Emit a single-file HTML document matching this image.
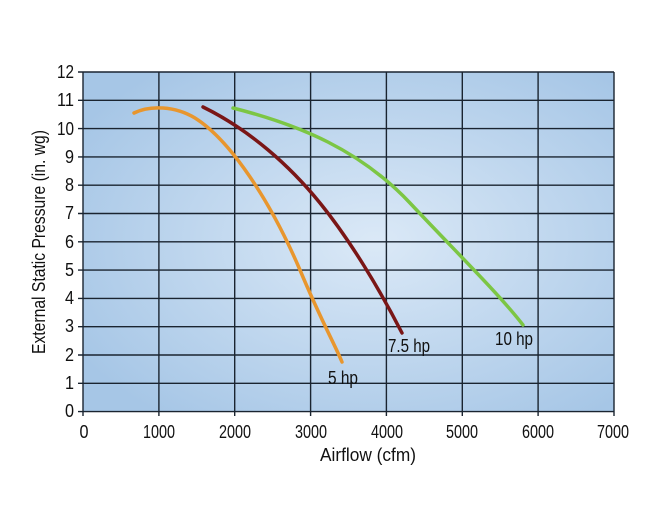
<!DOCTYPE html>
<html><head><meta charset="utf-8"><style>
html,body{margin:0;padding:0;background:#fff;}
svg text{font-family:"Liberation Sans Narrow","Liberation Sans",sans-serif;fill:#111;}
</style></head><body>
<svg width="650" height="526" viewBox="0 0 650 526" xmlns="http://www.w3.org/2000/svg">
<defs>
<radialGradient id="bg" cx="0.55" cy="0.5" r="0.65">
<stop offset="0" stop-color="#dbe9f7"/>
<stop offset="1" stop-color="#a6c6e6"/>
</radialGradient>
</defs>
<rect x="83" y="72" width="531" height="340" fill="url(#bg)"/>
<g stroke="#1a2430" stroke-width="1.4">
<line x1="78" y1="72" x2="614" y2="72"/>
<line x1="78" y1="100.3" x2="614" y2="100.3"/>
<line x1="78" y1="128.6" x2="614" y2="128.6"/>
<line x1="78" y1="156.9" x2="614" y2="156.9"/>
<line x1="78" y1="185.2" x2="614" y2="185.2"/>
<line x1="78" y1="213.5" x2="614" y2="213.5"/>
<line x1="78" y1="241.8" x2="614" y2="241.8"/>
<line x1="78" y1="270.1" x2="614" y2="270.1"/>
<line x1="78" y1="298.4" x2="614" y2="298.4"/>
<line x1="78" y1="326.7" x2="614" y2="326.7"/>
<line x1="78" y1="355" x2="614" y2="355"/>
<line x1="78" y1="383.3" x2="614" y2="383.3"/>
<line x1="78" y1="411.6" x2="614" y2="411.6"/>
<line x1="83" y1="72" x2="83" y2="416"/>
<line x1="158.9" y1="72" x2="158.9" y2="416"/>
<line x1="234.7" y1="72" x2="234.7" y2="416"/>
<line x1="310.6" y1="72" x2="310.6" y2="416"/>
<line x1="386.4" y1="72" x2="386.4" y2="416"/>
<line x1="462.3" y1="72" x2="462.3" y2="416"/>
<line x1="538.1" y1="72" x2="538.1" y2="416"/>
<line x1="614" y1="72" x2="614" y2="416"/>
</g>
<g fill="none" stroke-width="3.5" stroke-linecap="round" stroke-linejoin="round">
<path d="M134,113 C150,105 175,106 195,118 C230,140 270,200 300,270 C320,318 335,345 342,362" stroke="#e8962e"/>
<path d="M203,107 C250,130 290,166 320,203 C350,240 380,290 402,333" stroke="#7a1616"/>
<path d="M233,108 C300,125 360,150 410,203 C455,251 500,295 523,325" stroke="#7cc644"/>
</g>
<g font-size="18" text-anchor="end">
<text x="74" y="78" textLength="17" lengthAdjust="spacingAndGlyphs">12</text><text x="74" y="106" textLength="17" lengthAdjust="spacingAndGlyphs">11</text><text x="74" y="135" textLength="17" lengthAdjust="spacingAndGlyphs">10</text>
<text x="74" y="163" textLength="9" lengthAdjust="spacingAndGlyphs">9</text><text x="74" y="191" textLength="9" lengthAdjust="spacingAndGlyphs">8</text><text x="74" y="219" textLength="9" lengthAdjust="spacingAndGlyphs">7</text>
<text x="74" y="248" textLength="9" lengthAdjust="spacingAndGlyphs">6</text><text x="74" y="276" textLength="9" lengthAdjust="spacingAndGlyphs">5</text><text x="74" y="304" textLength="9" lengthAdjust="spacingAndGlyphs">4</text>
<text x="74" y="332" textLength="9" lengthAdjust="spacingAndGlyphs">3</text><text x="74" y="361" textLength="9" lengthAdjust="spacingAndGlyphs">2</text><text x="74" y="389" textLength="9" lengthAdjust="spacingAndGlyphs">1</text>
<text x="74" y="417" textLength="9" lengthAdjust="spacingAndGlyphs">0</text>
</g>
<g font-size="18" text-anchor="middle">
<text x="84" y="438" textLength="9" lengthAdjust="spacingAndGlyphs">0</text>
<text x="159" y="438" textLength="32" lengthAdjust="spacingAndGlyphs">1000</text>
<text x="235" y="438" textLength="32" lengthAdjust="spacingAndGlyphs">2000</text>
<text x="311" y="438" textLength="32" lengthAdjust="spacingAndGlyphs">3000</text>
<text x="387" y="438" textLength="32" lengthAdjust="spacingAndGlyphs">4000</text>
<text x="462" y="438" textLength="32" lengthAdjust="spacingAndGlyphs">5000</text>
<text x="538" y="438" textLength="32" lengthAdjust="spacingAndGlyphs">6000</text>
<text x="613" y="438" textLength="32" lengthAdjust="spacingAndGlyphs">7000</text>
<text x="368" y="461" textLength="96" lengthAdjust="spacingAndGlyphs">Airflow (cfm)</text>
<text transform="translate(45,242) rotate(-90)" textLength="224" lengthAdjust="spacingAndGlyphs">External Static Pressure (in. wg)</text>
</g>
<g font-size="18">
<text x="328" y="384" textLength="30" lengthAdjust="spacingAndGlyphs">5 hp</text>
<text x="388" y="352" textLength="42" lengthAdjust="spacingAndGlyphs">7.5 hp</text>
<text x="495" y="345" textLength="38" lengthAdjust="spacingAndGlyphs">10 hp</text>
</g>
</svg>
</body></html>
